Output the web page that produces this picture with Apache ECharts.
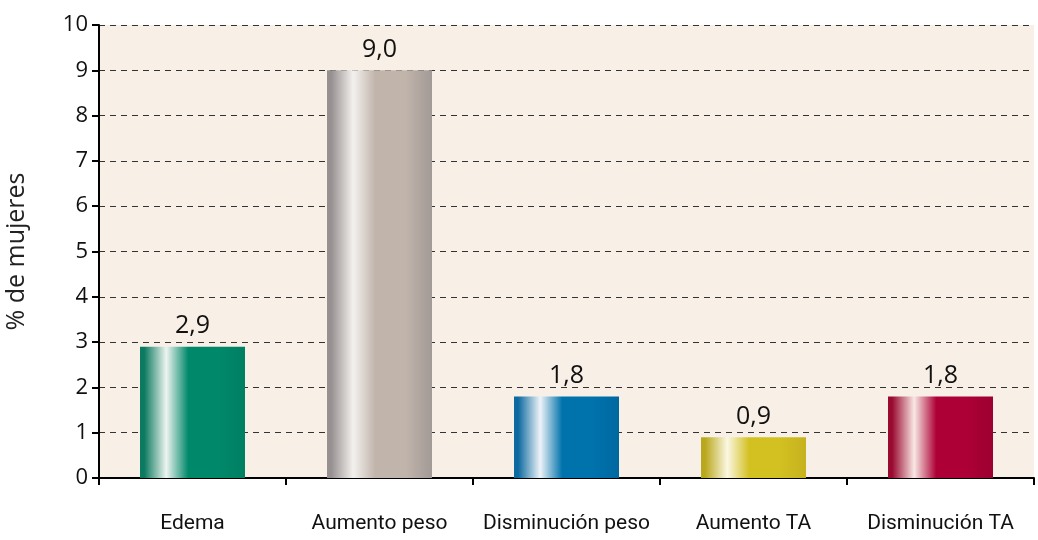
<!DOCTYPE html>
<html>
<head>
<meta charset="utf-8">
<script src="https://cdn.jsdelivr.net/npm/echarts@6/dist/echarts.min.js"></script>
<style>
  html, body { margin: 0; padding: 0; background: #fff; }
  #chart { width: 1038px; height: 540px; }
</style>
</head>
<body>
<div id="chart"></div>
<script>
// datos
var categorias = ['Edema', 'Aumento peso', 'Disminución peso', 'Aumento TA', 'Disminución TA'];
var valores = [2.9, 9.0, 1.8, 0.9, 1.8];
// colores de cada barra: borde, brillo, base, borde derecho
var tonos = [
  ['#0b7a60', '#eef4ef', '#00886a', '#007f63'],
  ['#979090', '#f3f1ee', '#c1b4ab', '#a29a96'],
  ['#0d6aa0', '#eef3f8', '#0072ac', '#0068a0'],
  ['#b9a81e', '#fbf7e2', '#d3c021', '#c6b21e'],
  ['#9a0a30', '#f8e8e4', '#ad0036', '#9c0030']
];

function degradado(t) {
  return new echarts.graphic.LinearGradient(0, 0, 1, 0, [
    { offset: 0, color: t[0] },
    { offset: 0.04, color: t[0] },
    { offset: 0.25, color: t[1] },
    { offset: 0.46, color: t[2] },
    { offset: 0.75, color: t[2] },
    { offset: 1, color: t[3] }
  ]);
}

var chart = echarts.init(document.getElementById('chart'));
var option = {
  animation: false,
  grid: {
    left: 99, right: 4, top: 25, bottom: 62,
    outerBoundsMode: 'none',
    containLabel: false,
    show: true, backgroundColor: '#f8efe6', borderWidth: 0
  },
  xAxis: {
    type: 'category',
    data: categorias,
    axisLine: { lineStyle: { color: '#000', width: 2 } },
    axisTick: { show: true, length: 7, lineStyle: { color: '#000', width: 2 } },
    axisLabel: {
      interval: 0,
      margin: 35,
      fontFamily: 'Roboto, Liberation Sans, sans-serif',
      fontSize: 21,
      color: '#111'
    }
  },
  yAxis: {
    type: 'value',
    min: 0, max: 10, interval: 1,
    name: '% de mujeres',
    nameLocation: 'middle',
    nameGap: 70,
    nameTextStyle: { fontFamily: 'Open Sans', fontSize: 25, color: '#222' },
    axisLine: { show: true, lineStyle: { color: '#000', width: 2 } },
    axisTick: { show: true, length: 7, lineStyle: { color: '#000', width: 2 } },
    axisLabel: { margin: 11, fontFamily: 'Open Sans', fontSize: 22, color: '#111' },
    splitLine: { lineStyle: { color: '#333', type: [6, 5], width: 1 } }
  },
  series: [{
    type: 'bar',
    barWidth: 105,
    data: valores.map(function (v, i) {
      return { value: v, itemStyle: { color: degradado(tonos[i]) } };
    }),
    label: {
      show: true,
      position: 'top',
      distance: 8,
      fontFamily: 'Open Sans',
      fontSize: 25,
      color: '#111',
      formatter: function (p) { return p.value.toFixed(1).replace('.', ','); }
    }
  }]
};
chart.setOption(option);
</script>
</body>
</html>
